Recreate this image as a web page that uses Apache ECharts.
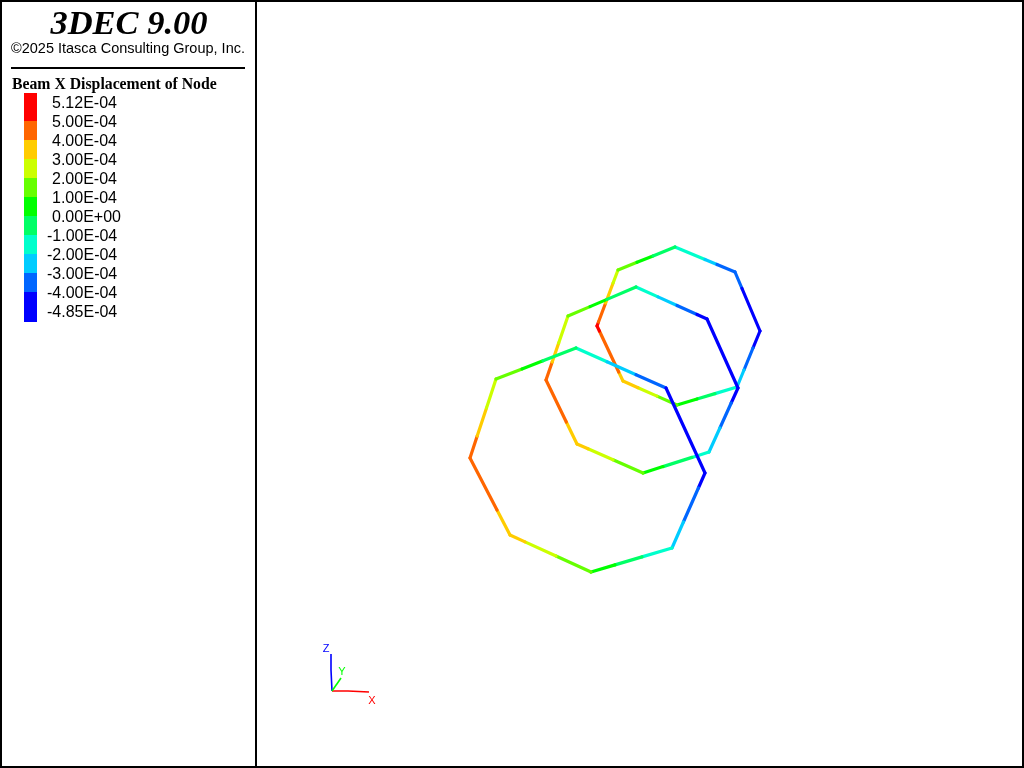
<!DOCTYPE html>
<html>
<head>
<meta charset="utf-8">
<style>html,body{margin:0;padding:0;background:#fff}#c{width:1024px;height:768px}</style>
<script src="https://cdn.jsdelivr.net/npm/echarts@6/dist/echarts.min.js"></script>
</head>
<body>
<div id="c"></div>
<script>
// Legend
const legendLabels = ['5.12E-04','5.00E-04','4.00E-04','3.00E-04','2.00E-04','1.00E-04','0.00E+00','-1.00E-04','-2.00E-04','-3.00E-04','-4.00E-04','-4.85E-04'];
const bandColors = ['#ff0000','#ff6600','#ffcc00','#ccff00','#66ff00','#00ff00','#00ff66','#00ffcc','#00ccff','#0066ff','#0000ff'];
const bandLower = [5,4,3,2,1,0,-1,-2,-3,-4,-5];   // lower limit of each band, 1E-04

// Ring polylines in view coordinates; value of stretch i -> i+1 in 1E-04
const ring1X = [675,705,717,735,742,760,753,744,737,715,697,677,657,638,623,618.7,599.4,597,598.5,605.6,613.1,618,637,653,675];
const ring1Y = [247,259.5,264.5,272,288.5,331,348,370,387,393.6,399,405,396.1,387.7,381,372,331,326,322,303,283,270,262.3,255.9,247];
const ring1V = [-1.5,-2.5,-3.5,-3.5,-4.4,-4.4,-3.5,-2.5,-1.5,-0.5,0.5,1.5,2.5,3.5,3.5,4.5,5.06,5.06,4.5,3.5,2.5,1.5,0.5,-0.5];

const ring2X = [636,658,677,697,707,738,731.2,719.9,709,692,663,643,613,588,577,566.3,546,552.2,558.7,568,590,607,636];
const ring2Y = [287,296.9,305.5,314.5,319,388,403,428,452,457.4,466.6,473,459.8,448.8,444,422,380,362,343,316,306.6,299.4,287];
const ring2V = [-1.5,-2.5,-3.5,-4.4,-4.4,-4.4,-3.5,-2.5,-1.5,-0.5,0.5,1.5,2.5,3.5,3.5,4.5,4.5,3.5,2.5,1.5,0.5,-0.5];

const ring3X = [576,607,636,666,705,698.4,683.4,672,642,615,591,556,525,510,497,470,477.2,486.5,496,522,543,576];
const ring3Y = [348,361.8,374.7,388,473,488,522,548,556.9,564.9,572,556,541.9,535,510,458,436,408,379,368.9,360.8,348];
const ring3V = [-1.5,-2.5,-3.5,-4.4,-4.4,-3.5,-2.5,-1.5,-0.5,0.5,1.5,2.5,3.5,3.5,4.5,4.5,3.5,2.5,1.5,0.5,-0.5];

// Axis triad
const triadX = [[332,348,369],[332,331,331],[332,341]];
const triadY = [[691,691,692],[691,670,654],[691,678]];
const triadColors = ['#ff0000','#0000ff','#00ff00'];
const triadNames = ['X','Z','Y'];

function bandColor(v){
  for(let i=0;i<bandLower.length;i++){ if(v>=bandLower[i]) return bandColors[i]; }
  return bandColors[bandColors.length-1];
}
const series = [];
[[ring1X,ring1Y,ring1V],[ring2X,ring2Y,ring2V],[ring3X,ring3Y,ring3V]].forEach(function(r,ri){
  r[2].forEach(function(v,i){
    series.push({
      type:'line', silent:true, symbol:'none', z:2+ri, animation:false,
      data:[[r[0][i],r[1][i]],[r[0][i+1],r[1][i+1]]],
      lineStyle:{color:bandColor(v),width:3.2,cap:'round'}
    });
  });
});
triadX.forEach(function(xs,k){
  series.push({
    type:'line', silent:true, symbol:'none', z:6, animation:false,
    data:xs.map(function(x,i){return [x,triadY[k][i]];}),
    lineStyle:{color:triadColors[k],width:1.6}
  });
});

const g = [];
function rect(x,y,w,h,fill){ g.push({type:'rect',silent:true,z:10,shape:{x:x,y:y,width:w,height:h},style:{fill:fill}}); }
function text(x,y,t,font,fill,align){ g.push({type:'text',silent:true,z:11,x:x,y:y,style:{text:t,font:font,fill:fill||'#000',align:align||'left',verticalAlign:'middle'}}); }
// frame
rect(0,0,1024,2,'#000'); rect(0,766,1024,2,'#000'); rect(0,0,2,768,'#000'); rect(1022,0,2,768,'#000');
rect(255,0,2,768,'#000');
rect(11,67,234,2,'#000');
text(129,25,'3DEC 9.00','italic bold 34.5px "Liberation Serif"','#000','center');
text(128,49,'\u00A92025 Itasca Consulting Group, Inc.','14.5px "Liberation Sans"','#000','center');
text(12,85,'Beam X Displacement of Node','bold 15.75px "Liberation Serif"');
// legend
bandColors.forEach(function(c,i){
  const top = i===0 ? 93 : 102+19*i;
  const bottom = i===bandColors.length-1 ? 322 : 121+19*i;
  rect(24,top,13,bottom-top,c);
});
legendLabels.forEach(function(t,i){
  text(t.charAt(0)==='-'?47:52,104+19*i,t,'16px "Liberation Sans"');
});
// triad labels
text(326,649,triadNames[1],'11px "Liberation Sans"',triadColors[1],'center');
text(342,672,triadNames[2],'11px "Liberation Sans"',triadColors[2],'center');
text(372,701,triadNames[0],'11px "Liberation Sans"',triadColors[0],'center');

const chart = echarts.init(document.getElementById('c'),null,{renderer:'canvas'});
chart.setOption({
  animation:false,
  backgroundColor:'#fff',
  grid:{left:0,right:0,top:0,bottom:0},
  xAxis:{type:'value',min:0,max:1024,show:false},
  yAxis:{type:'value',min:0,max:768,inverse:true,show:false},
  series:series,
  graphic:{elements:g}
});
</script>
</body>
</html>
